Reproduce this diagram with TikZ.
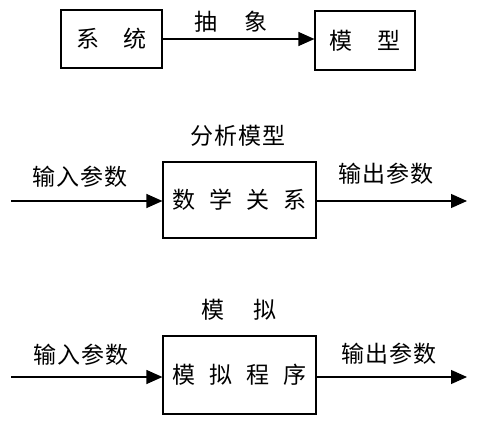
\documentclass[tikz,border=0pt]{standalone}
\usepackage{fontspec}
\setmainfont{Noto Sans CJK SC}
\usetikzlibrary{arrows.meta}
\begin{document}
\begin{tikzpicture}[x=1pt,y=-1pt,
  font=\fontsize{23}{23}\selectfont,
  box/.style={draw,line width=1.2pt,inner sep=0pt},
  lbl/.style={inner sep=0pt},
  arr/.style={line width=1.2pt,-{Triangle[length=16pt,width=14pt]}}]
\useasboundingbox (0,0) rectangle (477,423);
% row 1
\node[box,minimum width=101pt,minimum height=58pt] (sys) at (111.5,39) {系\hspace{25pt}统};
\node[box,minimum width=100pt,minimum height=59pt] (mod) at (365,40.5) {模\hspace{25pt}型};
\node[lbl] (abs) at (231,22) {抽\hspace{27pt}象};
\draw[arr] (sys.east) -- (sys.east -| mod.west);
% row 2
\node[box,minimum width=153pt,minimum height=76pt] (math) at (239.5,200) {数\hspace{14pt}学\hspace{14pt}关\hspace{14pt}系};
\node[lbl] (ana) at (238,136) {分\kern1pt 析\kern1pt 模\kern1pt 型};
\node[lbl] (in2) at (80,177) {输\kern1pt 入\kern1pt 参\kern1pt 数};
\node[lbl] (out2) at (386,174) {输\kern1pt 出\kern1pt 参\kern1pt 数};
\coordinate (s2) at (11,201);
\coordinate (e2) at (467,201);
\draw[arr] (s2) -- (s2 -| math.west);
\draw[arr] (math.east |- e2) -- (e2);
% row 3
\node[box,minimum width=153pt,minimum height=78pt] (sim) at (239.5,375) {模\hspace{14pt}拟\hspace{14pt}程\hspace{14pt}序};
\node[lbl] (simt) at (239,310) {模\hspace{29pt}拟};
\node[lbl] (in3) at (81,355) {输\kern1pt 入\kern1pt 参\kern1pt 数};
\node[lbl] (out3) at (389,354) {输\kern1pt 出\kern1pt 参\kern1pt 数};
\coordinate (s3) at (11,377);
\coordinate (e3) at (467,377);
\draw[arr] (s3) -- (s3 -| sim.west);
\draw[arr] (sim.east |- e3) -- (e3);
\end{tikzpicture}
\end{document}
